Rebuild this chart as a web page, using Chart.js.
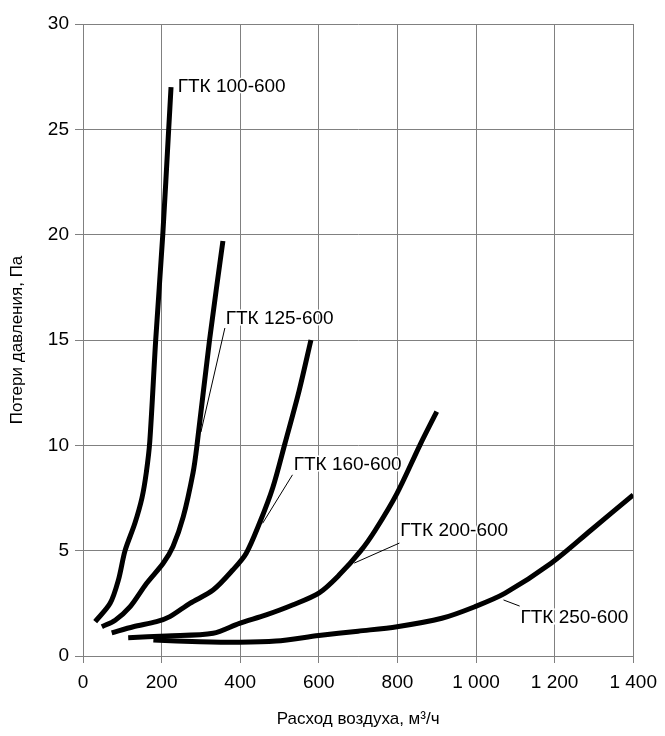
<!DOCTYPE html>
<html>
<head>
<meta charset="utf-8">
<script src="https://cdn.jsdelivr.net/npm/chart.js@4.4.1/dist/chart.umd.min.js"></script>
<style>
  body { margin: 0; background: #fff; }
  #wrap { width: 665px; height: 736px; }
</style>
</head>
<body>
<div id="wrap"><canvas id="chart"></canvas></div>
<script>
// data: air flow (m3/h) and pressure loss (Pa)
const gtk100X = [31, 69, 90, 107, 132, 150, 161, 170, 185, 203, 218, 224];
const gtk100Y = [1.63, 2.5, 3.6, 5.0, 6.3, 7.5, 8.7, 10.2, 15, 20, 25, 27];

const gtk125X = [48, 82, 120, 162, 204, 229, 255, 280, 290, 322, 356];
const gtk125Y = [1.39, 1.7, 2.34, 3.45, 4.4, 5.2, 6.6, 8.7, 10, 15, 19.7];

const gtk160X = [73, 128, 187, 221, 272, 331, 381, 415, 449, 483, 514, 550, 580];
const gtk160Y = [1.1, 1.39, 1.63, 1.87, 2.5, 3.13, 4.08, 4.87, 6.3, 8.0, 10.1, 12.6, 15];

const gtk200X = [115, 213, 331, 398, 466, 533, 601, 651, 707, 744, 799, 857, 900];
const gtk200Y = [0.87, 0.95, 1.08, 1.55, 1.95, 2.42, 3.0, 3.83, 5.0, 5.98, 7.72, 10, 11.6];

const gtk250X = [179, 297, 398, 491, 600, 700, 799, 913, 997, 1073, 1191, 1293, 1400];
const gtk250Y = [0.76, 0.68, 0.65, 0.71, 0.97, 1.18, 1.39, 1.79, 2.34, 2.97, 4.4, 5.98, 7.65];

const seriesNames = ['ГТК 100-600', 'ГТК 125-600', 'ГТК 160-600', 'ГТК 200-600', 'ГТК 250-600'];
const xTicks = [0, 200, 400, 600, 800, 1000, 1200, 1400];
const yTicks = [0, 5, 10, 15, 20, 25, 30];

// where the curve names sit (data units) and their leader lines
const labelSpots = [
  { text: seriesNames[0], x: 241, y: 27.0, line: null },
  { text: seriesNames[1], x: 363, y: 16.0, line: [361, 15.57, 300, 10.63] },
  { text: seriesNames[2], x: 536, y: 9.06, line: [533, 8.6, 457, 6.3] },
  { text: seriesNames[3], x: 807, y: 5.93, line: [805, 5.36, 690, 4.41] },
  { text: seriesNames[4], x: 1113, y: 1.8, line: [1111, 2.37, 1070, 2.66] }
];

const pairs = (xs, ys) => xs.map((x, i) => ({ x: x, y: ys[i] }));

const curves = [
  [gtk100X, gtk100Y], [gtk125X, gtk125Y], [gtk160X, gtk160Y],
  [gtk200X, gtk200Y], [gtk250X, gtk250Y]
];

const datasets = curves.map((c, i) => ({
  label: seriesNames[i],
  data: pairs(c[0], c[1]),
  showLine: true,
  borderColor: '#000',
  borderWidth: 5,
  borderCapStyle: 'butt',
  borderJoinStyle: 'round',
  pointRadius: 0,
  tension: 0.3
}));

const fmt = v => v >= 1000 ? Math.floor(v / 1000) + ' ' + String(v % 1000).padStart(3, '0') : String(v);

const curveLabels = {
  id: 'curveLabels',
  afterDatasetsDraw(chart) {
    const ctx = chart.ctx;
    const xs = chart.scales.x, ys = chart.scales.y;
    ctx.save();
    labelSpots.forEach(l => {
      if (l.line) {
        ctx.beginPath();
        ctx.strokeStyle = '#000';
        ctx.lineWidth = 1;
        ctx.moveTo(xs.getPixelForValue(l.line[0]), ys.getPixelForValue(l.line[1]));
        ctx.lineTo(xs.getPixelForValue(l.line[2]), ys.getPixelForValue(l.line[3]));
        ctx.stroke();
      }
      const px = xs.getPixelForValue(l.x), py = ys.getPixelForValue(l.y);
      ctx.font = '19px "Liberation Sans", Arial, sans-serif';
      ctx.textAlign = 'left';
      ctx.textBaseline = 'middle';
      ctx.lineWidth = 3;
      ctx.strokeStyle = '#fff';
      ctx.strokeText(l.text, px, py);
      ctx.fillStyle = '#000';
      ctx.fillText(l.text, px, py);
    });
    ctx.restore();
  }
};

new Chart(document.getElementById('chart'), {
  type: 'scatter',
  data: { datasets: datasets },
  options: {
    responsive: true,
    maintainAspectRatio: false,
    animation: false,
    layout: { padding: { left: 0, right: 30, top: 24, bottom: 0 } },
    plugins: { legend: { display: false }, tooltip: { enabled: false } },
    scales: {
      x: {
        type: 'linear',
        min: 0, max: 1400,
        afterBuildTicks: s => { s.ticks = xTicks.map(v => ({ value: v })); },
        afterFit: s => { s.height = 80; },
        grid: { color: '#808080', lineWidth: 1, tickLength: 7, tickColor: '#808080' },
        border: { color: '#808080', width: 1 },
        ticks: {
          color: '#000', padding: 8, maxRotation: 0,
          font: { family: '"Liberation Sans", Arial, sans-serif', size: 19 },
          callback: v => fmt(v)
        },
        title: {
          display: true, text: 'Расход воздуха, м³/ч', color: '#000',
          font: { family: '"Liberation Sans", Arial, sans-serif', size: 17 },
          padding: { top: 4, bottom: 6 }
        }
      },
      y: {
        type: 'linear',
        min: 0, max: 30,
        afterBuildTicks: s => { s.ticks = yTicks.map(v => ({ value: v })); },
        afterFit: s => { s.width = 83; },
        grid: { color: '#808080', lineWidth: 1, tickLength: 8, tickColor: '#808080' },
        border: { color: '#808080', width: 1 },
        ticks: {
          color: '#000', padding: 6,
          font: { family: '"Liberation Sans", Arial, sans-serif', size: 19 }
        },
        title: {
          display: true, text: 'Потери давления, Па', color: '#000',
          font: { family: '"Liberation Sans", Arial, sans-serif', size: 17 },
          padding: { top: 7, bottom: 4 }
        }
      }
    }
  },
  plugins: [curveLabels]
});
</script>
</body>
</html>
